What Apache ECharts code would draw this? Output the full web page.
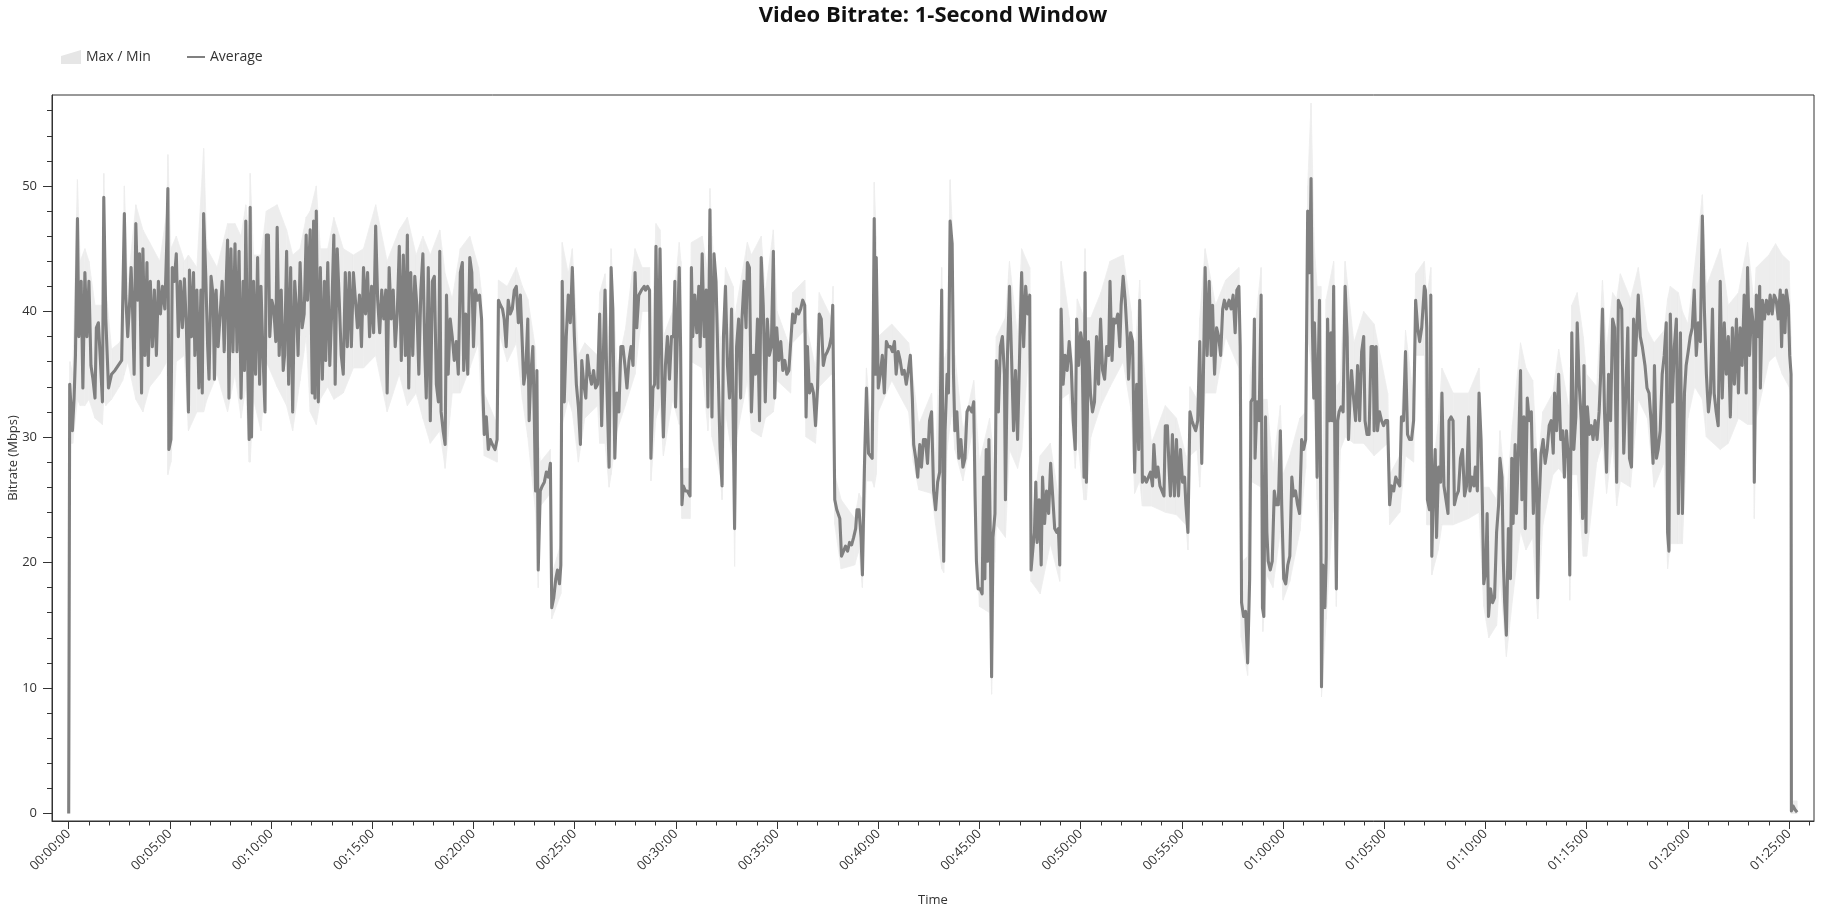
<!DOCTYPE html>
<html><head><meta charset="utf-8">
<script src="https://cdn.jsdelivr.net/npm/echarts@6/dist/echarts.min.js"></script>
<style>html,body{margin:0;padding:0;background:#fff}#c{width:1830px;height:905px}</style>
</head><body><div id="c"></div>
<script>
// [seconds, average Mbps]
const averageSeries = [
[0,0],[3,34.2],[11,30.5],[16,33.1],[20,36.5],[26,47.4],[30,38],[37,42.4],[42,33.9],[48,43.1],[54,38],[60,42.4],[66,35.7],[72,34.6],[78,33.1],[82,38.7],[88,39.1],[94,36.1],[100,32.8],[104,49.1],[110,39.4],[118,33.9],[127,35],[137,35.3],[147,35.7],[157,36.1],[165,47.8],[169,41.3],[175,38],[181,40.9],[185,43.5],[189,40.5],[194,35],[199,47],[205,40.9],[210,44.6],[216,33.5],[220,45],[226,36.5],[232,43.9],[236,35.7],[242,42.4],[248,37.2],[254,41.7],[260,36.5],[266,42.4],[272,39.8],[278,42],[285,40.2],[291,45.7],[294,49.8],[297,29],[303,29.8],[307,43.5],[313,42.4],[319,44.6],[325,38],[331,42.4],[337,38.7],[343,42.6],[349,38.7],[355,32],[358,43.3],[364,38],[370,43.1],[374,36.5],[380,41.7],[386,33.9],[392,41.7],[396,33.5],[400,47.8],[406,43.1],[412,37.2],[416,34.6],[422,42.8],[428,41.3],[432,34.6],[437,41.7],[443,37.2],[449,39.8],[455,42.4],[461,36.8],[467,42.4],[471,45.7],[475,33.1],[481,45],[487,36.8],[493,45.4],[499,36.8],[505,44.8],[511,33.1],[517,42.4],[521,35.3],[525,47.2],[531,35.3],[535,29.8],[538,48.3],[542,30],[548,42.4],[554,35],
[560,44.3],[566,34.2],[570,42],[576,36.5],[582,32],[586,46.1],[592,46.1],[596,38],[602,40.9],[608,40.2],[614,37.6],[618,46.7],[624,36.5],[630,41.7],[636,35.3],[640,36.5],[646,44.8],[652,34.2],[658,43.5],[664,32],[670,42.4],[676,39.8],[680,36.5],[686,43.9],[692,38.7],[698,39.8],[704,46.1],[708,40.9],[716,46.5],[722,33.5],[726,47.2],[730,33.1],[734,48],[740,32.8],[746,43.5],[752,34.6],[758,42.4],[762,36.1],[768,43.9],[774,35.7],[780,40.2],[786,46.1],[790,34.2],[796,45],[802,40.9],[808,36.5],[814,35],[820,43.1],[826,37.2],[832,43.1],[838,37.2],[844,43.1],[850,40.9],[856,38.7],[862,41.3],[868,37.2],[874,43.5],[880,39.8],[886,43.1],[892,38],[898,42],[904,38.3],[910,46.8],[916,40.9],[922,38.3],[928,41.7],[934,39.4],[940,41.7],[944,33.5],[950,43.5],[956,39.4],[962,41.7],[968,37.2],[974,39.8],[980,45.2],[986,36.1],[992,44.5],[998,36.5],[1004,46.1],[1008,33.9],[1014,43.1],[1020,36.5],[1026,42.8],[1032,40.5],[1038,35],[1044,41.7],[1050,44.6],[1056,36.5],[1060,33.1],[1066,43.5],[1072,31.3],[1078,42.4],[1084,42.8],[1090,34.2],[1096,32.8],[1100,44.8],[1104,32],[1110,30.5],[1116,29.4],[1120,41.3],[1125,35],[1131,39.4],[1137,38],
[1143,36.1],[1149,37.6],[1155,35],[1161,43.1],[1167,43.9],[1171,35.3],[1177,39.8],[1183,35],[1189,44.3],[1195,43.1],[1200,37.2],[1206,41.7],[1212,40.9],[1218,41.3],[1224,39.4],[1228,33.5],[1232,30.2],[1238,31.6],[1244,29],[1250,29.8],[1256,29.4],[1264,29],[1270,29.8],[1274,40.9],[1280,40.5],[1286,40.2],[1291,39.4],[1297,37.2],[1303,40.9],[1309,39.8],[1315,40.2],[1321,41.7],[1327,42],[1333,39.1],[1339,41.3],[1345,37.2],[1349,34.2],[1355,35.3],[1361,39.4],[1365,31.3],[1370,35],[1376,37.2],[1380,32],[1384,25.7],[1388,35.3],[1392,19.4],[1398,25.7],[1404,26.1],[1410,26.4],[1416,27.2],[1422,26.8],[1428,27.9],[1432,16.4],[1438,17.2],[1444,18.7],[1449,19.4],[1455,18.3],[1459,19.8],[1463,42.4],[1469,32.8],[1475,38],[1481,41.3],[1487,39.1],[1493,43.5],[1499,38],[1505,34.2],[1511,32.4],[1517,29.4],[1521,36.1],[1527,34.2],[1533,33.1],[1538,36.5],[1544,35],[1550,34.2],[1556,35.3],[1562,33.9],[1568,34.2],[1574,39.8],[1580,30.9],[1586,37.6],[1590,41.7],[1596,33.5],[1602,27.6],[1608,43.5],[1613,40.2],[1619,28.3],[1625,33.5],[1631,32],[1637,37.2],[1643,37.2],[1649,35.7],[1655,33.9],[1661,36.1],[1667,37.2],[1673,35.7],[1679,43.1],[1684,38.7],[1690,41.3],[1698,41.7],[1706,42],
[1710,41.7],[1716,42],[1722,41.7],[1726,28.3],[1732,33.9],[1737,34.2],[1741,45.2],[1747,33.9],[1753,45],[1759,34.2],[1763,30],[1769,35.7],[1775,38],[1781,34.6],[1787,38],[1793,38],[1797,42.4],[1799,32.4],[1805,38.7],[1810,43.5],[1814,37.2],[1818,24.6],[1822,26.1],[1828,25.7],[1834,25.7],[1842,25.3],[1846,43.5],[1850,38],[1856,41.3],[1862,38.3],[1868,42],[1872,37.2],[1878,44.6],[1884,38],[1890,41.7],[1895,32.4],[1901,48.1],[1907,31.6],[1913,44.6],[1919,42.4],[1925,35.7],[1931,29],[1937,26.1],[1941,38],[1947,42],[1953,35.7],[1959,33.1],[1965,40.2],[1970,31.3],[1974,22.7],[1980,37.2],[1986,39.4],[1992,33.1],[1996,39.4],[2002,42.4],[2008,38.7],[2012,43.9],[2018,43.5],[2024,32],[2030,36.5],[2036,35],[2042,39.4],[2048,31.3],[2053,44.3],[2059,40.5],[2065,32.8],[2071,39.4],[2077,36.5],[2083,37.2],[2089,44.8],[2093,33.1],[2099,38.7],[2105,36.1],[2111,37.6],[2117,35.3],[2123,36.1],[2129,35],[2135,35.3],[2140,35.3],[2146,39.8],[2152,39.1],[2158,40.2],[2164,39.8],[2170,40.2],[2176,40.9],[2182,40.5],[2186,31.6],[2190,37.2],[2196,33.5],[2202,34.2],[2208,33.5],[2214,30.9],[2220,33.9],[2225,39.8],[2231,39.4],[2237,35.7],[2243,36.5],[2249,36.8],[2255,37.2],[2261,38],[2265,40.5],[2271,25],[2277,24.2],
[2286,23.5],[2291,20.5],[2297,20.9],[2303,21.3],[2309,20.9],[2315,21.6],[2321,21.4],[2327,22],[2333,22.7],[2337,24.2],[2343,24.2],[2349,22],[2353,19],[2359,27.6],[2365,33.9],[2371,28.7],[2376,28.7],[2382,28.3],[2388,47.4],[2392,35],[2394,44.3],[2400,33.9],[2406,35],[2412,36.5],[2418,33.5],[2424,37.6],[2430,37.2],[2436,37.2],[2442,36.8],[2448,37.6],[2453,35],[2459,36.8],[2465,36.1],[2471,35],[2477,35.3],[2483,34.2],[2489,35.3],[2495,36.5],[2501,33.1],[2505,29.4],[2511,28.3],[2517,26.8],[2523,29.4],[2528,27.6],[2534,29.8],[2540,29.8],[2546,27.9],[2552,31.3],[2558,32],[2564,25.7],[2570,24.2],[2576,26.4],[2582,27.2],[2588,41.7],[2594,20.1],[2598,30.5],[2604,35],[2608,33.5],[2613,47.2],[2619,45.4],[2623,35],[2627,30.5],[2633,32],[2639,28.3],[2645,29.8],[2651,27.6],[2657,28.3],[2663,32],[2669,32.4],[2677,32],[2683,32.8],[2687,25.3],[2691,20.1],[2696,17.9],[2702,17.9],[2708,17.5],[2712,26.8],[2716,18.7],[2720,29],[2724,20.1],[2728,29.8],[2732,22.4],[2736,10.9],[2740,22],[2746,23.9],[2750,36.1],[2756,32],[2762,37.2],[2768,38],[2774,35],[2777,25],[2783,36.5],[2789,42],[2795,36.5],[2801,30.5],[2807,35.3],[2813,29.8],[2819,36.5],[2825,43.1],[2831,37.2],[2837,42],[2843,39.8],[2849,41.3],[2853,19.4],[2860,21.6],
[2863,22.4],[2867,26.4],[2871,21.6],[2877,25],[2883,19.8],[2887,26.8],[2893,23.1],[2899,25.7],[2905,23.9],[2911,27.9],[2917,25.3],[2923,22.7],[2929,22.4],[2934,22.7],[2938,19.8],[2942,40.2],[2948,34.2],[2954,36.5],[2960,35.3],[2966,37.6],[2972,35.7],[2978,31.3],[2984,29],[2988,39.4],[2994,35.7],[3000,38.3],[3004,37.6],[3010,26.8],[3013,43.1],[3017,26.4],[3023,37.6],[3029,33.5],[3035,32],[3041,32.8],[3047,38],[3053,34.2],[3059,39.4],[3065,35.3],[3071,34.6],[3077,37.2],[3083,36.5],[3087,42.4],[3093,36.1],[3098,39.4],[3104,39.1],[3110,39.8],[3116,37.2],[3120,40.5],[3126,42.8],[3132,40.9],[3138,38],[3142,34.6],[3148,38.3],[3154,37.6],[3160,27.2],[3166,34.2],[3172,29],[3175,40.9],[3179,35.7],[3183,26.4],[3189,26.8],[3195,26.4],[3201,26.8],[3207,27.2],[3213,26.1],[3217,29.4],[3223,26.8],[3229,27.6],[3235,26.1],[3241,25.7],[3247,25.3],[3251,30.9],[3257,30.9],[3262,27.6],[3266,25.3],[3272,30.2],[3278,25.3],[3284,29.8],[3290,25.3],[3296,29],[3302,26.4],[3308,26.8],[3312,24.6],[3318,22.4],[3324,32],[3330,31.3],[3335,30.9],[3341,30.5],[3347,31.3],[3353,37.6],[3359,27.9],[3363,33.5],[3369,43.5],[3375,36.5],[3381,42.4],[3387,36.5],[3391,40.5],[3397,35],[3403,38.7],[3409,38],[3415,36.5],[3421,40.2],[3426,40.9],[3432,40.2],[3440,40.9],
[3446,40.2],[3452,41.3],[3458,38.3],[3463,41.7],[3469,42],[3473,37.2],[3477,16.8],[3483,15.7],[3489,16.1],[3495,12],[3501,18.7],[3505,32.8],[3511,33.1],[3515,39.4],[3517,28.3],[3523,32.8],[3529,31.3],[3535,41.3],[3539,16.4],[3543,15.7],[3548,31.6],[3552,22.4],[3556,20.1],[3562,19.4],[3568,20.1],[3574,25.7],[3580,24.6],[3586,24.6],[3592,30.5],[3596,24.6],[3602,18.7],[3608,18.3],[3614,19.8],[3620,20.5],[3626,26.8],[3631,25.3],[3637,25.7],[3643,24.6],[3649,23.9],[3655,29.8],[3661,29],[3667,29.8],[3673,48],[3679,43.1],[3683,50.6],[3687,38.7],[3691,33.1],[3693,39.1],[3697,35],[3701,26.8],[3705,36.5],[3708,40.9],[3712,23.1],[3714,10.1],[3718,19.8],[3724,16.4],[3728,20.5],[3732,39.4],[3738,31.3],[3742,38.3],[3746,31.3],[3750,42],[3754,27.6],[3758,17.9],[3762,31.3],[3766,32],[3772,32.4],[3778,32],[3784,42],[3790,38],[3794,29.8],[3799,33.5],[3803,35.3],[3809,33.1],[3815,31.3],[3821,35.7],[3827,31.3],[3833,36.8],[3839,38],[3843,31.3],[3849,30.2],[3855,30.2],[3861,37.2],[3867,37.2],[3870,30.5],[3876,37.2],[3880,30.5],[3886,32],[3892,31.3],[3898,30.9],[3904,31.3],[3910,31.3],[3916,24.6],[3922,26.1],[3928,25.7],[3934,26.8],[3940,26.4],[3946,26.1],[3951,31.6],[3957,31.3],[3963,36.8],[3969,30.2],[3975,29.8],[3981,29.8],[3987,31.3],[3993,40.9],[3999,38.7],[4005,37.6],[4011,38.7],[4019,42],
[4022,41.7],[4026,38.7],[4028,25],[4034,24.2],[4038,41.3],[4041,20.5],[4045,25],[4051,29],[4055,22],[4061,27.6],[4067,26.4],[4071,33.5],[4077,26.1],[4083,25],[4089,23.9],[4092,31.3],[4098,31.6],[4104,31.3],[4108,24.6],[4114,25.3],[4120,25.7],[4126,28.3],[4132,29],[4138,25.3],[4144,26.1],[4150,31.6],[4154,25.7],[4160,26.8],[4166,26.1],[4170,27.6],[4176,25.7],[4181,33.5],[4187,29.8],[4191,24.6],[4195,18.3],[4201,19.4],[4205,23.9],[4209,15.7],[4215,17.9],[4221,16.8],[4227,17.2],[4233,22.4],[4239,24.6],[4243,28.3],[4249,26.8],[4253,20.1],[4257,16.8],[4262,14.2],[4268,22.7],[4274,18.7],[4278,28.3],[4282,23.1],[4288,29.4],[4292,23.9],[4298,29],[4304,35.3],[4308,25],[4314,31.6],[4318,22.7],[4324,33.1],[4330,31.3],[4336,32],[4342,23.9],[4348,29],[4352,25.7],[4355,17.2],[4359,24.6],[4365,28.7],[4371,29.8],[4377,27.9],[4383,29],[4389,30.9],[4395,31.3],[4401,28.7],[4405,33.5],[4411,30.5],[4417,35],[4423,29.8],[4429,30.5],[4434,26.8],[4440,30.5],[4446,28.3],[4450,19],[4456,38.3],[4462,29],[4468,31.6],[4472,39.1],[4478,34.2],[4484,31.3],[4488,23.5],[4492,35.7],[4498,22.4],[4502,32.4],[4508,30.2],[4514,30.9],[4519,29.8],[4525,31.3],[4531,29.8],[4537,32],[4541,34.6],[4547,40.2],[4553,32],[4559,27.2],[4565,35],[4571,31.3],[4577,39.4],[4583,38.7],[4589,26.4],[4594,40.9],
[4598,40.9],[4604,40.2],[4610,28.7],[4616,33.5],[4622,38.7],[4627,28.3],[4633,27.6],[4639,39.4],[4645,36.5],[4653,41.3],[4659,38],[4665,37.2],[4673,35.7],[4679,33.9],[4685,33.5],[4691,31.3],[4697,27.9],[4701,35.7],[4707,28.3],[4712,29],[4718,30.5],[4724,35],[4730,36.5],[4736,39.1],[4740,22.4],[4744,20.9],[4748,39.8],[4754,32.8],[4760,37.2],[4766,39.4],[4772,23.9],[4778,38.3],[4784,23.9],[4790,33.5],[4795,35.7],[4801,36.8],[4807,38],[4813,38.7],[4819,41.7],[4825,36.5],[4831,39.1],[4837,37.6],[4843,47.6],[4849,40.2],[4855,35],[4861,32],[4867,33.5],[4873,40.2],[4878,33.5],[4884,32],[4890,30.9],[4896,42.4],[4902,33.1],[4908,39.1],[4914,35],[4920,38],[4926,31.6],[4932,38.7],[4938,34.2],[4944,39.4],[4950,33.5],[4955,38.7],[4961,35.7],[4967,41.3],[4973,33.5],[4977,43.5],[4983,36.5],[4989,40.2],[4995,38.7],[4997,26.4],[5003,41.3],[5009,38],[5013,42],[5015,33.9],[5021,40.9],[5027,39.4],[5033,40.9],[5039,39.8],[5044,41.3],[5050,39.8],[5056,41.3],[5062,40.9],[5068,39.4],[5074,41.7],[5078,37.2],[5082,41.3],[5088,38.3],[5092,41.7],[5098,40.5],[5102,36.5],[5106,35],[5107,0.2],[5112,0.6],[5118,0.3],[5124,0.1]
];

// [seconds, max Mbps, min Mbps]
const maxMinSeries = [
[0,0.5,0],[4,36,29.5],[12,35,29.5],[26,50.5,33],[34,44,32.5],[48,45,32.5],[60,44,33],[78,40.5,31.5],[100,40.5,31],[104,51,33],[110,42,32.5],[127,37,33],[150,37.5,34],[160,38,34.5],[165,50,35],[175,42,36],[199,48.5,33],[220,46.5,32],[240,45.5,34],[270,44,35],[291,48,36],[294,52.5,27],[303,45,28],[319,46,36],[343,44,36.5],[355,44.5,30.5],[380,43.5,32],[400,53,32],[410,45,33],[440,43.5,35],[471,47,32],[493,47,35],[511,46,31.5],[525,48.5,34],[535,46,28],[538,51,28],[548,44.5,33],[570,44.5,30.5],[586,48,36],[618,48.5,34],[646,46.5,32.5],[664,44.5,30.5],[686,45,34.5],[704,47.5,38],[716,48,32],[734,50,31],[746,45,33],[768,45,34],[786,47.5,33],[814,45,33.5],[844,44.5,35.5],[874,45,35.5],[910,48.5,36.5],[944,44,32],[980,46.5,35],[1004,47.5,32.5],[1030,44.5,33.5],[1050,46,31.5],[1072,44.5,29.5],[1100,46.5,30.5],[1116,43,27.5],[1137,41,33.5],[1161,45,33.5],[1189,46,35.5],[1215,43.5,37.5],[1224,41.5,32],[1232,33.5,28.5],[1270,31,28],[1274,42.5,38.5],[1300,42,36],[1327,43.5,37.5],[1345,42,33],[1361,41,30],[1384,37,24],[1392,30,18],[1398,28,24.5],[1428,29,25.5],[1432,19,15.5],[1459,21.5,17.5],[1463,45.5,31],[1481,43,33],[1493,45,32],[1511,36.5,28],[1530,37.5,31.5],[1568,36.5,32.5],[1574,41.5,29.5],[1590,43,29.5],[1602,38,26],[1608,45,27],[1625,35.5,30.5],[1650,38.5,32.5],[1679,45,35],[1700,43.5,40],[1722,43.5,40],[1726,36,26.5],[1741,47,31.5],[1753,46.5,32.5],[1763,38,28.5],[1790,40,33],[1810,45.5,31],[1815,44,33],[1818,27.5,23.5],[1842,27.5,23.5],[1846,45.5,36],[1878,46,35.5],[1895,43,30.5],[1901,49.8,33],[1907,46,30],[1931,38,27],[1937,36,25],[1947,43.5,32],[1970,42,28],[1974,39,19.7],[1980,40.5,30],[2012,45.5,34.5],[2024,44.5,30.5],[2053,46,30],[2065,41.5,31.5],[2089,46.5,32],[2100,40,34.5],[2140,37,33.5],[2146,41.5,37.5],[2182,42.5,38.5],[2186,39,30],[2214,35.5,29.5],[2225,41.5,34],[2261,39.5,35],[2266,42,35],[2271,27,23],[2290,25,19.5],[2330,23.5,19.8],[2343,25.5,21],[2353,25,18],[2365,35.5,26.5],[2382,30,26.5],[2388,50.3,26],[2394,46,27],[2400,38,32],[2440,39,34.5],[2490,37.5,32],[2504,34.5,28],[2520,31,25.8],[2558,33.5,25.5],[2570,28,23],[2588,43.5,19.5],[2594,36,19.2],[2604,37,29],[2613,50.5,31],[2619,47,32],[2627,36.5,29],[2651,30.5,26.5],[2683,34.5,31],[2687,33,24.5],[2700,28,16.5],[2730,31.5,16],[2736,30,9.5],[2745,26,20],[2750,38,23],[2777,39.5,22],[2789,44,29],[2813,38,27.5],[2825,45,29],[2849,43.5,38],[2853,23,18.5],[2880,28.5,17.5],[2910,29.5,21.5],[2938,24.5,18.5],[2942,44,33],[2966,39.5,33.5],[2984,33,27.5],[2990,41,30],[3010,39.5,25],[3013,45,25],[3017,39.5,25],[3030,39.5,30],[3060,41.5,32.5],[3087,44,34],[3126,44.5,36],[3150,40,32],[3160,36,25.5],[3175,42.5,26.5],[3183,37,24.5],[3210,29.5,24.5],[3251,32.5,24],[3284,31.5,23.8],[3312,28.5,23],[3318,27,21],[3324,34,28.5],[3345,33,29],[3353,39.5,26],[3369,45,33.5],[3400,40.5,33.5],[3430,42.5,38],[3469,43.5,35.5],[3476,20,14],[3495,20.5,11],[3503,35,26.5],[3535,43.5,26],[3540,33,14.5],[3552,33,19],[3570,27.5,18],[3592,32.5,22.5],[3600,27,17],[3620,28.5,18.5],[3650,31.5,22.5],[3667,32,27.5],[3673,50,38],[3683,56.6,36],[3693,45,32],[3701,42,25],[3712,42,20],[3714,25,9.3],[3728,41,15.5],[3750,44,25],[3758,34,16.5],[3770,34.5,29],[3784,44,30],[3810,37.5,29.5],[3839,40,29.5],[3870,39,28.5],[3910,33.5,29.5],[3916,27,23],[3946,28.5,24],[3963,38.5,28.5],[3987,33,28],[3993,43,36.5],[4019,44,36.5],[4026,41,23],[4038,43.5,23],[4041,27,19],[4060,31,21],[4071,35.5,23],[4104,33.5,23],[4150,33.5,23.5],[4181,35.5,24],[4195,26,16.5],[4210,26,14],[4233,25,15],[4243,30.5,19],[4262,25,12.5],[4280,31,17],[4304,37.5,22.5],[4320,35.5,21],[4340,34.5,22],[4355,27.5,15.5],[4370,32,23],[4400,33.5,27],[4417,37,27.5],[4446,32.5,26.5],[4450,30,17],[4456,40.5,27],[4472,41.5,27],[4490,38,20.5],[4500,35,20.5],[4530,34,28],[4547,42.5,29.5],[4559,37,25.5],[4577,41.5,29.5],[4589,41,24.5],[4600,43,26.5],[4630,41,26],[4653,43.5,33],[4680,38.5,31.5],[4700,37.5,26],[4730,38.5,28],[4740,41,19.5],[4748,42,21.5],[4772,41.5,21.5],[4784,40,21.5],[4800,39,31.5],[4820,43.5,34],[4843,49.3,33],[4855,42,30],[4896,45,29],[4920,40.5,29.5],[4950,41.5,31.5],[4977,45.5,31],[4995,41,31],[4997,41,23.5],[5003,43.5,31.5],[5040,44.5,36],[5060,45.4,36.5],[5080,44.5,35],[5100,44,34],[5106,38,33],[5107,1,0],[5124,1,0]
];

const xLabelTimes = [0,300,600,900,1200,1500,1800,2100,2400,2700,3000,3300,3600,3900,4200,4500,4800,5100];
const yLabelValues = [0,10,20,30,40,50];
const xMinorTicks = []; for (let s = 0; s <= 5160; s += 60) xMinorTicks.push(s);
const yMinorTicks = []; for (let v = 0; v <= 56; v += 2) yMinorTicks.push(v);

const FONT = 'Open Sans';
const AX = '#333';
const X_MIN = -49.5, X_MAX = 5174, Y_MIN = -0.6, Y_MAX = 57.25;

function pad(n){ return (n < 10 ? '0' : '') + n; }
function fmtTime(v){
  const s = Math.round(v);
  return pad(Math.floor(s/3600)) + ':' + pad(Math.floor((s%3600)/60)) + ':' + pad(s%60);
}

const chart = echarts.init(document.getElementById('c'), null, {renderer:'canvas'});
chart.setOption({
  animation: false,
  backgroundColor: '#fff',
  textStyle: {fontFamily: FONT},
  title: {
    text: 'Video Bitrate: 1-Second Window',
    left: 933, top: 5, textAlign: 'center', padding: 0,
    textStyle: {fontFamily: FONT, fontSize: 22, fontWeight: 'bold', color: '#111'}
  },
  legend: [
    {
      data: [{name: 'Max / Min', icon: 'path://M0,6 L20,0 L20,14 L0,14 Z', itemStyle: {color: '#e6e6e6'}}],
      left: 61, top: 50, itemWidth: 20, itemHeight: 14, padding: 0, selectedMode: false,
      textStyle: {fontFamily: FONT, fontSize: 14, color: '#333'}
    },
    {
      data: [{name: 'Average', icon: 'rect', itemStyle: {color: '#808080'}}],
      left: 187, top: 50, itemWidth: 18, itemHeight: 2, padding: 0, selectedMode: false,
      textStyle: {fontFamily: FONT, fontSize: 14, color: '#333'}
    }
  ],
  grid: {
    left: 52, right: 16, top: 95, bottom: 84,
    show: true, borderColor: AX, borderWidth: 1, backgroundColor: 'transparent',
    containLabel: false, outerBoundsMode: 'none'
  },
  xAxis: [
    {
      type: 'value', min: X_MIN, max: X_MAX, position: 'bottom',
      name: 'Time', nameLocation: 'middle', nameGap: 73, nameMoveOverlap: false,
      nameTextStyle: {fontFamily: FONT, fontSize: 13, color: '#333'},
      axisLine: {show: true, onZero: false, lineStyle: {color: AX, width: 1}},
      axisTick: {show: true, customValues: xLabelTimes, length: 8, lineStyle: {color: AX}},
      axisLabel: {customValues: xLabelTimes, rotate: 45, margin: 11, formatter: fmtTime,
                  fontFamily: FONT, fontSize: 13, color: '#333'},
      splitLine: {show: false}
    },
    {
      type: 'value', min: X_MIN, max: X_MAX, position: 'bottom', gridIndex: 0,
      axisLine: {show: false, onZero: false},
      axisTick: {show: true, customValues: xMinorTicks, length: 4.5, lineStyle: {color: AX}},
      axisLabel: {show: false},
      splitLine: {show: false}
    }
  ],
  yAxis: [
    {
      type: 'value', min: Y_MIN, max: Y_MAX, position: 'left',
      name: 'Bitrate (Mbps)', nameLocation: 'middle', nameGap: 32, nameRotate: 90, nameMoveOverlap: false,
      nameTextStyle: {fontFamily: FONT, fontSize: 13, color: '#333'},
      axisLine: {show: true, onZero: false, lineStyle: {color: AX, width: 1}},
      axisTick: {show: true, customValues: yLabelValues, length: 9, lineStyle: {color: AX}},
      axisLabel: {customValues: yLabelValues, margin: 15, fontFamily: FONT, fontSize: 13, color: '#333'},
      splitLine: {show: false}
    },
    {
      type: 'value', min: Y_MIN, max: Y_MAX, position: 'left', gridIndex: 0,
      axisLine: {show: false, onZero: false},
      axisTick: {show: true, customValues: yMinorTicks, length: 5, lineStyle: {color: AX}},
      axisLabel: {show: false},
      splitLine: {show: false}
    }
  ],
  series: [
    {
      type: 'custom', name: 'Max / Min', xAxisIndex: 0, yAxisIndex: 0,
      data: maxMinSeries, encode: {x: 0, y: [1, 2]}, clip: true, silent: true, z: 1,
      renderItem: function (params, api) {
        const i = params.dataIndex;
        if (i >= maxMinSeries.length - 1) return null;
        const a = maxMinSeries[i], b = maxMinSeries[i + 1];
        const pts = [api.coord([a[0], a[1]]), api.coord([b[0], b[1]]), api.coord([b[0], b[2]]), api.coord([a[0], a[2]])];
        return {type: 'polygon', shape: {points: pts}, style: {fill: '#ededed', stroke: '#ededed', lineWidth: 0.8}};
      }
    },
    {
      type: 'line', name: 'Average', xAxisIndex: 0, yAxisIndex: 0,
      data: averageSeries, showSymbol: false, symbol: 'none', silent: true, z: 3,
      lineStyle: {color: '#808080', width: 3.1, join: 'round'}
    }
  ]
});
</script>
</body></html>
